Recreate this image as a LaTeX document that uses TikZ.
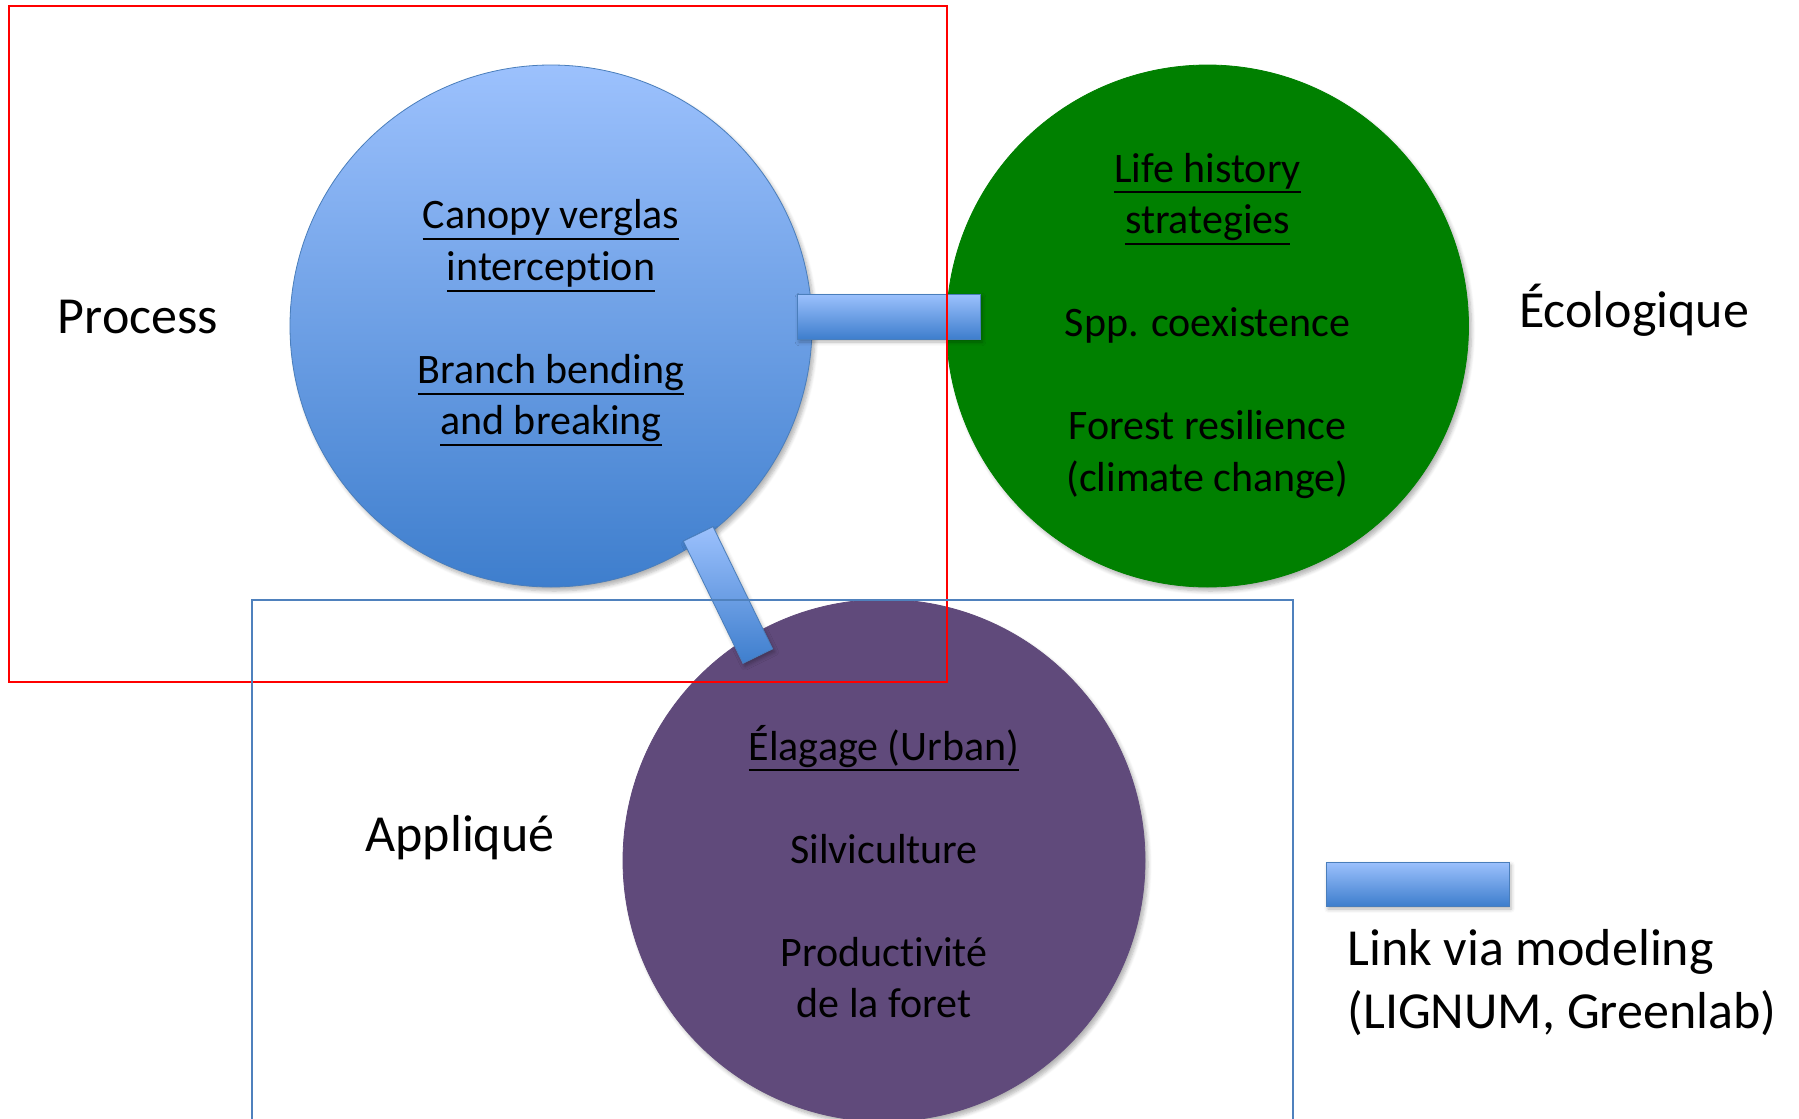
\documentclass[tikz,border=0pt]{standalone}
\usepackage{fontspec}
\setmainfont{Carlito}[Ligatures=CommonOff]
\usetikzlibrary{shadows.blur}

\definecolor{lightblue}{RGB}{156,193,253}
\definecolor{darkblue}{RGB}{62,126,205}
\definecolor{edgeblue}{RGB}{74,126,187}
\definecolor{ecogreen}{RGB}{0,128,0}
\definecolor{applpurple}{RGB}{96,74,123}
\definecolor{boxblue}{RGB}{79,129,189}

\newcommand\undl[1]{\setbox0=\hbox{#1}\rlap{\rule[-5.6pt]{\wd0}{1pt}}\box0}

\begin{document}
\begin{tikzpicture}[x=0.5pt, y=-0.5pt,
bubble/.style={circle, inner sep=0pt, minimum size=261pt, blur shadow={shadow xshift=1.5pt, shadow yshift=-2pt, shadow blur steps=6, shadow opacity=30}},
bubbletext/.style={align=center, inner sep=0pt, font=\fontsize{21}{25.75}\selectfont},
sidetext/.style={inner sep=0pt, font=\fontsize{26}{31.5}\selectfont},
linkbar/.style={rectangle, draw=edgeblue, thin, top color=lightblue, bottom color=darkblue, inner sep=0pt, blur shadow={shadow xshift=1pt, shadow yshift=-1.5pt, shadow blur steps=4, shadow opacity=30}},
]
\clip (0,0) rectangle (1799,1119);

%Nodes
\node[bubble, draw=edgeblue, top color=lightblue, bottom color=darkblue] (process) at (551,326) {};
\node[bubble, draw=ecogreen, fill=ecogreen] (eco) at (1207.5,326) {};
\node[bubble, draw=applpurple, fill=applpurple] (appl) at (884,860.5) {};

\node[bubbletext] (processtext) at ([yshift=1.5pt]process.center) {\undl{Canopy verglas}\\ \undl{interception}\\[\baselineskip] \undl{Branch bending}\\ \undl{and breaking}};
\node[bubbletext] (ecotext) at ([yshift=0.2pt]eco.center) {\undl{Life history}\\ \undl{strategies}\\[\baselineskip] Spp. coexistence\\[\baselineskip] Forest resilience\\ (climate change)};
\node[bubbletext] (appltext) at ([yshift=-5.5pt]appl.center) {\undl{Élagage (Urban)}\\[\baselineskip] Silviculture\\[\baselineskip] Productivité\\ de la foret};

\node[sidetext] (processlabel) at (138,317) {Process};
\node[sidetext] (ecolabel) at (1634,310) {Écologique};
\node[sidetext] (appllabel) at (460,838) {Appliqué};

%Links
\node[linkbar, minimum width=91.5pt, minimum height=22.5pt] (linkpe) at (888.5,316.5) {};
\node[linkbar, minimum width=68pt, minimum height=16.5pt, rotate=116] (linkpa) at (728,595) {};
\node[linkbar, minimum width=91.5pt, minimum height=22pt] (legendbar) at (1417.5,884) {};
\node[sidetext, align=left, anchor=west] (legendtext) at (1347,983) {Link via modeling\\ (LIGNUM, Greenlab)};

%Frames
\draw[red, line width=0.8pt] (9,6) rectangle (947,682);
\draw[boxblue, line width=0.8pt] (252,600) rectangle (1293,1140);

\end{tikzpicture}
\end{document}
